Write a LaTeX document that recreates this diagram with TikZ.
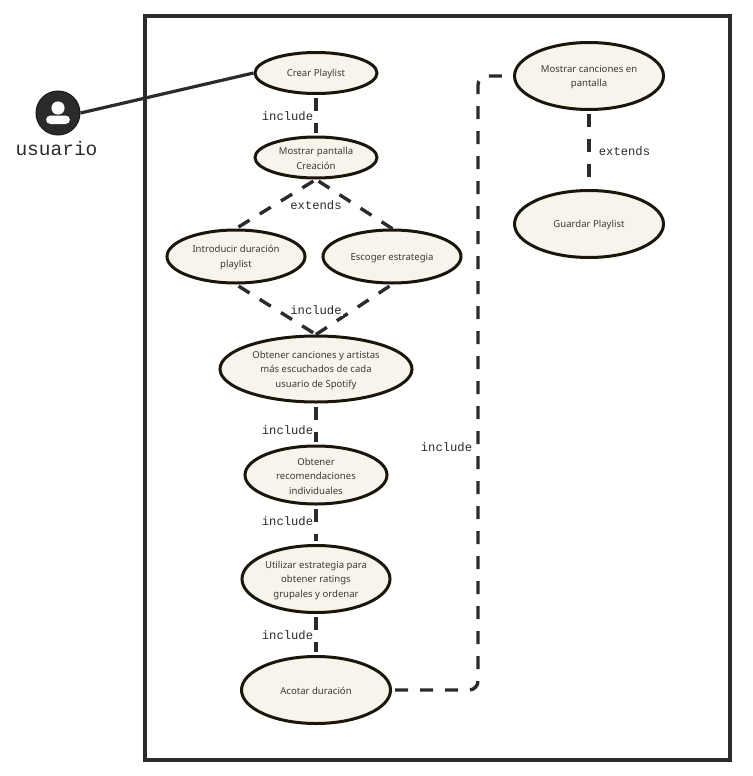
\documentclass[tikz,border=0pt]{standalone}
\usepackage{fontspec}
\setmainfont{Noto Sans}
\setmonofont{Liberation Mono}
\usetikzlibrary{shapes.geometric}
\definecolor{ink}{HTML}{1A1609}
\definecolor{cream}{HTML}{F8F4EC}
\definecolor{linec}{HTML}{2B2B2E}
\definecolor{txt}{HTML}{3A3A3A}
\tikzset{
 uc/.style={ellipse,draw=ink,fill=cream,line width=3pt,inner sep=0pt},
 uct/.style={inner sep=0pt,yshift=-1.2pt,align=center,text=txt,font=\fontsize{9.55}{14.6}\selectfont},
 dashlink/.style={draw=linec,line width=3.4pt,dash pattern=on 13pt off 12pt},
 lab/.style={font=\ttfamily\fontsize{12.2}{14}\selectfont,text=linec,fill=white,inner sep=1pt},
}
\begin{document}
\begin{tikzpicture}[x=1pt,y=-1pt]
\useasboundingbox (0,0) rectangle (752,776);
\draw[draw=linec,line width=3.4pt] (145,16) rectangle (730,760);
\node[uc,minimum width=122pt,minimum height=41pt,label={[uct]center:{Crear Playlist}}] (crear) at (316,73) {};
\node[uc,minimum width=122pt,minimum height=41pt,label={[uct]center:{Mostrar pantalla\\Creación}}] (pant) at (316,157.5) {};
\node[uc,minimum width=138pt,minimum height=53pt,label={[uct]center:{Introducir duración\\playlist}}] (intro) at (236,256.5) {};
\node[uc,minimum width=138pt,minimum height=53pt,label={[uct]center:{Escoger estrategia}}] (esc) at (392,256.5) {};
\node[uc,minimum width=192pt,minimum height=66pt,label={[uct]center:{Obtener canciones y artistas\\más escuchados de cada\\usuario de Spotify}}] (obt) at (316,369) {};
\node[uc,minimum width=142pt,minimum height=58pt,label={[uct]center:{Obtener\\recomendaciones\\individuales}}] (rec) at (316,475) {};
\node[uc,minimum width=148pt,minimum height=67pt,label={[uct]center:{Utilizar estrategia para\\obtener ratings\\grupales y ordenar}}] (util) at (316,579) {};
\node[uc,minimum width=149pt,minimum height=67pt,label={[uct]center:{Acotar duración}}] (acot) at (316,690) {};
\node[uc,minimum width=149pt,minimum height=67pt,label={[uct]center:{Mostrar canciones en\\pantalla}}] (mos) at (589,76) {};
\node[uc,minimum width=149pt,minimum height=67pt,label={[uct]center:{Guardar Playlist}}] (guar) at (589,224) {};
% actor
\node[circle,fill=linec,draw=ink!80!linec,line width=1pt,minimum size=44pt,inner sep=0pt] (actor) at (58,113) {};
\fill[white] (58,108) circle (6.6pt);
\fill[white,rounded corners=4.5pt] (46,115.5) rectangle (70,124);
\node[font=\ttfamily\fontsize{19.5}{22}\selectfont,text=linec,inner sep=0pt] (ulab) at (56.5,149) {usuario};
% connectors
\draw[draw=linec,line width=3.2pt] (actor.east) -- (crear.west);
\draw[dashlink,shorten >=3pt,shorten <=3pt] (crear) -- (pant);
\draw[dashlink,shorten <=3pt,shorten >=-1pt] (pant.south) -- (intro.north);
\draw[dashlink,shorten <=3pt,shorten >=-1pt] (pant.south) -- (esc.north);
\draw[dashlink,shorten <=3pt,shorten >=-1pt] (intro.south) -- (obt.north);
\draw[dashlink,shorten <=3pt,shorten >=-1pt] (esc.south) -- (obt.north);
\draw[dashlink,shorten <=3pt,shorten >=3pt] (obt) -- (rec);
\draw[dashlink,shorten <=3pt,shorten >=3pt] (rec) -- (util);
\draw[dashlink,shorten <=3pt,shorten >=3pt] (util) -- (acot);
\draw[dashlink,shorten <=3pt,shorten >=3pt] (mos) -- (guar);
\coordinate (turnA) at (478,690);
\coordinate (turnB) at (478,76);
\draw[dashlink,rounded corners=9pt,shorten <=3pt,shorten >=3pt] (acot.east) -- (turnA) -- (turnB) -- (mos.west);
% labels
\node[lab] (l1) at (287.5,116) {include};
\node[lab] (l2) at (316,205) {extends};
\node[lab] (l3) at (316,310) {include};
\node[lab] (l4) at (287.5,430) {include};
\node[lab] (l5) at (287.5,521) {include};
\node[lab] (l6) at (287.5,635) {include};
\node[lab] (l7) at (446.5,447) {include};
\node[lab] (l8) at (624.5,151) {extends};
\end{tikzpicture}
\end{document}
